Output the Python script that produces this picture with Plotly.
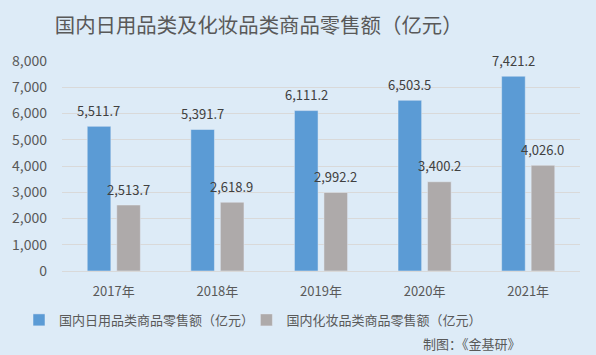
import plotly.graph_objects as go

years = ["2017年", "2018年", "2019年", "2020年", "2021年"]
daily = [5511.7, 5391.7, 6111.2, 6503.5, 7421.2]
cosmetic = [2513.7, 2618.9, 2992.2, 3400.2, 4026.0]
tick_vals = [0, 1000, 2000, 3000, 4000, 5000, 6000, 7000, 8000]
tick_text = ["0", "1,000", "2,000", "3,000", "4,000", "5,000", "6,000", "7,000", "8,000"]

FONT = "Noto Sans CJK SC"
GRAY = "#595959"
BG = "#DDEBF7"

fig = go.Figure()
fig.add_trace(go.Bar(x=years, y=daily, name="国内日用品类商品零售额（亿元）",
                     marker_color="#5B9BD5", legend="legend"))
fig.add_trace(go.Bar(x=years, y=cosmetic, name="国内化妆品类商品零售额（亿元）",
                     marker_color="#AEAAAA", legend="legend2"))

annotations = []
for x, v in zip(years, daily):
    annotations.append(dict(x=x, y=v, text=f"{v:,.1f}", showarrow=False, yanchor="middle",
                            xshift=-15, yshift=16, font=dict(size=13, color="#404040", family=FONT)))
for x, v in zip(years, cosmetic):
    annotations.append(dict(x=x, y=v, text=f"{v:,.1f}", showarrow=False, yanchor="middle",
                            xshift=14.5, yshift=16, font=dict(size=13, color="#404040", family=FONT)))
annotations.append(dict(xref="paper", yref="paper", x=1.0, y=0, xanchor="right", yanchor="middle",
                        text="制图：《金基研》", showarrow=False, xshift=-57, yshift=-72,
                        font=dict(size=13, color=GRAY, family=FONT)))

legend_common = dict(orientation="h", xanchor="left", y=-0.233, yanchor="middle",
                     font=dict(size=13, color=GRAY, family=FONT), itemwidth=30,
                     bgcolor="rgba(0,0,0,0)")

fig.update_layout(
    width=596, height=355,
    paper_bgcolor=BG, plot_bgcolor=BG,
    margin=dict(l=60, r=16, t=61, b=84),
    title=dict(text="国内日用品类及化妆品类商品零售额（亿元）", x=0.434, xanchor="center",
               y=0.926, yanchor="middle", font=dict(size=20.4, color=GRAY, family=FONT)),
    barmode="group", bargap=0.43, bargroupgap=0.2,
    font=dict(family=FONT, color=GRAY, size=13),
    showlegend=True,
    legend=dict(x=-0.083, **legend_common),
    legend2=dict(x=0.356, **legend_common),
    annotations=annotations,
)
fig.update_xaxes(showgrid=False, showline=True, linecolor="#D9D9D9", ticks="",
                 ticklabelstandoff=8,
                 tickfont=dict(size=13, color=GRAY, family=FONT))
fig.update_yaxes(range=[0, 8000], tickvals=tick_vals, ticktext=tick_text,
                 showgrid=True, gridcolor="#D9D9D9", gridwidth=1, zeroline=False,
                 showline=False, ticks="", ticklabelstandoff=14,
                 tickfont=dict(size=14, color=GRAY, family=FONT))

fig.write_html("out.html")
